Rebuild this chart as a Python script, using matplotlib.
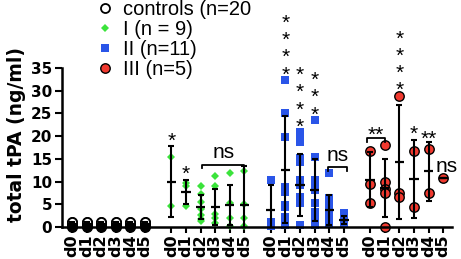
import matplotlib.pyplot as plt
from matplotlib.lines import Line2D
import numpy as np

days = ["d0", "d1", "d2", "d3", "d4", "d5"]
labels = ["controls (n=20", "I (n = 9)", "II (n=11)", "III (n=5)"]

# individual values per day (ng/ml)
controls_pts = [[0.0, 0.2, 0.3, 0.5, 0.6, 0.8, 1.0, 1.2]] * 6
group1_pts = [[15.4, 4.6],
              [9.6, 9.0, 4.7],
              [9.0, 7.2, 5.5, 4.0, 2.6, 1.8, 1.4],
              [11.2, 9.0, 2.9, 2.0, 0.9],
              [11.9, 5.3, 2.0, 0.2],
              [12.3, 5.1, 2.0, 0.2]]
group2_pts = [[10.3, 1.1, 0.3],
              [32.4, 25.1, 19.8, 8.8, 7.7, 4.8, 4.3, 2.2, 1.5, 0.9, 0.4],
              [20.9, 19.8, 18.7, 15.2, 14.3, 10.3, 9.3, 6.6, 5.3, 0.4],
              [23.6, 15.4, 10.3, 9.6, 8.1, 5.3, 3.3, 2.2, 0.4],
              [11.9, 6.4, 5.3, 3.7, 2.2, 0.9],
              [3.1, 1.5, 0.8]]
group3_pts = [[16.7, 9.5, 5.3],
              [18.1, 9.9, 8.4, 7.5, 0.0],
              [28.9, 7.5, 6.6],
              [16.7, 4.4],
              [17.2, 7.5],
              [10.8]]

# mean and SD bars as drawn
controls_mean = [0.6] * 6
controls_sd = [0.4] * 6
group1_mean = [10.0, 7.7, 4.4, 4.4, 4.8, 4.8]
group1_sd = [7.8, 2.7, 2.6, 4.0, 4.4, 8.6]
group2_mean = [3.7, 12.6, 9.3, 8.1, 3.7, 1.5]
group2_sd = [5.6, 11.8, 6.8, 6.8, 3.3, 0.9]
group3_mean = [10.4, 8.6, 14.3, 10.6, 12.3, 10.8]
group3_sd = [6.1, 6.4, 12.5, 8.6, 6.5, 0.0]

# significance marks per day (stacked asterisks)
group1_stars = [1, 1, 0, 0, 0, 0]
group2_stars = [0, 4, 4, 3, 0, 0]
group3_stars = [0, 0, 4, 1, 0, 0]

pts = [controls_pts, group1_pts, group2_pts, group3_pts]
means = [controls_mean, group1_mean, group2_mean, group3_mean]
sds = [controls_sd, group1_sd, group2_sd, group3_sd]
stars = [[0] * 6, group1_stars, group2_stars, group3_stars]

styles = [dict(marker="o", mfc="white", mec="black", ms=6.5, mew=1.3),
          dict(marker="D", mfc="#3be33b", mec="#3be33b", ms=4.2, mew=0),
          dict(marker="s", mfc="#2a55e8", mec="#2a55e8", ms=5.8, mew=0),
          dict(marker="o", mfc="#f0392f", mec="black", ms=6.8, mew=1.0)]

fig = plt.figure(figsize=(4.61, 2.59), dpi=100)
ax = fig.add_axes([62 / 461, 32 / 259, 390 / 461, 159 / 259])

stride = 6.8
xpos = [[g * stride + j for j in range(6)] for g in range(4)]

for g in range(4):
    for j in range(6):
        x = xpos[g][j]
        y = pts[g][j]
        ax.plot([x] * len(y), y, ls="none", zorder=2, clip_on=False, **styles[g])
    xs = np.array(xpos[g])
    ax.errorbar(xs, means[g], yerr=sds[g], fmt="none", ecolor="black",
                elinewidth=1.5, capsize=2.3, capthick=1.5, zorder=3)
    ax.hlines(means[g], xs - 0.32, xs + 0.32, color="black", lw=1.6, zorder=3)

txt = dict(family="Liberation Sans", fontsize=15, ha="center")
for g in range(4):
    for j in range(6):
        n = stars[g][j]
        if n == 0:
            continue
        top = max(means[g][j] + sds[g][j], max(pts[g][j]))
        ax.text(xpos[g][j], top - 1.0, "\n".join(["*"] * n), va="bottom",
                linespacing=0.88, **txt)

# brackets
def bracket(x0, x1, y, text, dy_text=1.6):
    ax.plot([x0, x0, x1, x1], [y - 0.8, y, y, y - 0.8], color="black", lw=1.3,
            clip_on=False)
    ax.text((x0 + x1) / 2, y + dy_text, text, va="center", **txt)

bracket(xpos[1][2] + 0.1, xpos[1][5], 13.7, "ns", 2.6)
bracket(xpos[2][4] - 0.1, xpos[2][5] + 0.2, 13.2, "ns", 2.6)
bracket(xpos[3][0] - 0.2, xpos[3][1], 19.6, "**", 0.6)
ax.text(xpos[3][4], 19.3, "**", va="center", **txt)
ax.text(xpos[3][5] + 0.2, 13.4, "ns", va="center", **txt)

ax.set_xlim(-0.68, 26.0)
ax.set_ylim(0, 35)
ax.set_yticks(range(0, 36, 5))
ax.set_xticks([x for row in xpos for x in row])
ax.set_xticklabels(days * 4, rotation=90, fontweight="bold", fontsize=11.5)
for lab in ax.get_yticklabels():
    lab.set_fontweight("bold")
    lab.set_fontsize(11)
ax.tick_params(axis="both", width=1.5, length=4, pad=1)
ax.tick_params(axis="y", length=5, pad=2)
for side in ["top", "right"]:
    ax.spines[side].set_visible(False)
for side in ["left", "bottom"]:
    ax.spines[side].set_linewidth(1.8)

ax.set_ylabel("total tPA (ng/ml)", fontweight="bold", fontsize=13.5)
ax.yaxis.set_label_coords(-0.092, 0.58)

handles = [Line2D([], [], ls="none", **styles[g]) for g in range(4)]
fig.legend(handles, labels, loc="upper left", bbox_to_anchor=(95 / 461, 1.0),
           frameon=False, prop=dict(family="Liberation Sans", size=14.5),
           handlelength=1.0, handletextpad=0.4, labelspacing=0.05,
           borderpad=0, borderaxespad=0)

fig.savefig("out.png", dpi=100)
